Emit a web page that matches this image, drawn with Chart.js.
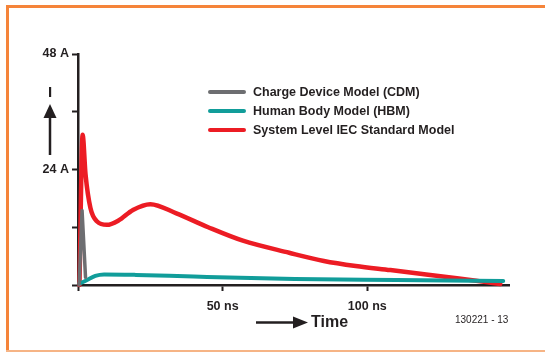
<!DOCTYPE html>
<html>
<head>
<meta charset="utf-8">
<script src="https://cdn.jsdelivr.net/npm/chart.js@4.4.1/dist/chart.umd.min.js"></script>
<style>
  html, body { margin:0; padding:0; background:#fff; }
  #wrap { position:relative; width:545px; height:352px; }
</style>
</head>
<body>
<div id="wrap"><canvas id="esd"></canvas></div>
<script>
// =========================================
// DATA
// =========================================
const seriesNames = ['Charge Device Model (CDM)', 'Human Body Model (HBM)', 'System Level IEC Standard Model'];
const seriesColors = ['#6d6e71', '#119d9a', '#ec1c24'];

// time in ns, current in A
const cdmTime    = [0.4, 1.4, 2.6];
const cdmCurrent = [0, 15.5, 1.6];

const hbmTime    = [0.5, 3, 6, 9, 20, 40, 75, 110, 147];
const hbmCurrent = [0.3, 1.0, 1.9, 2.2, 2.1, 1.75, 1.25, 1.05, 0.85];

const iecTime    = [0.5, 1.6, 2.6, 4.3, 6.6, 10, 14, 19, 25, 34, 45, 57, 73, 85, 96, 108, 119, 131, 141, 146];
const iecCurrent = [0, 31.2, 23, 16, 13.2, 12.5, 13.4, 15.6, 16.8, 14.9, 12.0, 9.2, 6.7, 5.0, 3.95, 3.1, 2.3, 1.4, 0.6, 0.2];

const xTicks = [0, 50, 100];
const xTickLabels = ['', '50 ns', '100 ns'];
const yTicks = [0, 12, 24, 36, 48];
const yTickLabels = ['', '', '24 A', '', '48 A'];

const ink = '#231f20';
const font = "'Liberation Sans', Arial, sans-serif";

function points(t, v){
  return t.map((x, i) => ({ x: x, y: v[i] }));
}

// =========================================
// FRAME, ARROWS, LEGEND
// =========================================
const extras = {
  id: 'extras',
  afterDraw(chart){
    const c = chart.ctx;
    c.save();

    // orange frame
    c.fillStyle = '#f5843a';
    c.fillRect(6, 5, 545 - 6, 3);
    c.fillRect(6, 5, 3, 352 - 5);
    c.fillStyle = '#f6b485';
    c.fillRect(6, 350, 545 - 6, 2);

    // "I" with upward arrow
    c.fillStyle = ink;
    c.strokeStyle = ink;
    c.font = 'bold 15px ' + font;
    c.textAlign = 'center';
    c.textBaseline = 'middle';
    c.fillText('I', 50, 93);
    c.lineWidth = 2.5;
    c.beginPath();
    c.moveTo(50, 155);
    c.lineTo(50, 115);
    c.stroke();
    c.beginPath();
    c.moveTo(50, 104);
    c.lineTo(56.5, 118);
    c.lineTo(43.5, 118);
    c.closePath();
    c.fill();

    // time arrow
    c.beginPath();
    c.moveTo(256, 322.5);
    c.lineTo(296, 322.5);
    c.stroke();
    c.beginPath();
    c.moveTo(308, 322.5);
    c.lineTo(293, 316.5);
    c.lineTo(293, 328.5);
    c.closePath();
    c.fill();
    c.font = 'bold 16px ' + font;
    c.textAlign = 'left';
    c.fillText('Time', 311, 323);

    c.font = "10px 'Liberation Sans Narrow', 'Liberation Sans', sans-serif";
    c.fillText('130221 - 13', 455, 320);

    // legend
    c.font = 'bold 12.5px ' + font;
    chart.data.datasets.forEach((ds, i) => {
      const y = 92 + i * 19;
      c.strokeStyle = ds.borderColor;
      c.lineWidth = 4;
      c.lineCap = 'round';
      c.beginPath();
      c.moveTo(210, y);
      c.lineTo(244, y);
      c.stroke();
      c.fillStyle = ink;
      c.fillText(ds.label, 253, y + 0.5);
    });

    c.restore();
  }
};

// =========================================
// CHART
// =========================================
new Chart(document.getElementById('esd'), {

  type: 'line',

  data: {
    datasets: [
      { label: seriesNames[0], data: points(cdmTime, cdmCurrent), borderColor: seriesColors[0], borderWidth: 3.5, tension: 0 },
      { label: seriesNames[1], data: points(hbmTime, hbmCurrent), borderColor: seriesColors[1], borderWidth: 4, cubicInterpolationMode: 'monotone' },
      { label: seriesNames[2], data: points(iecTime, iecCurrent), borderColor: seriesColors[2], borderWidth: 4.5, cubicInterpolationMode: 'monotone' }
    ]
  },

  options:{
    responsive:true,
    maintainAspectRatio:false,
    animation:false,
    layout: { padding: { left: 0, top: 54, right: 36, bottom: 0 } },
    elements: {
      point: { radius: 0 },
      line: { borderCapStyle: 'round', borderJoinStyle: 'round', fill: false }
    },
    datasets: { line: { clip: false } },
    plugins: {
      legend: { display: false },
      tooltip: { enabled: false }
    },
    scales: {
      x: {
        type: 'linear',
        min: 0,
        max: 149,
        afterBuildTicks: s => { s.ticks = xTicks.map(v => ({ value: v })); },
        afterFit: s => { s.height = 67; },
        border: { color: ink, width: 2.5 },
        grid: { drawOnChartArea: false, drawTicks: true, tickLength: 6, color: ink, tickWidth: 2 },
        ticks: {
          color: ink,
          padding: 8,
          maxRotation: 0,
          font: { family: font, weight: 'bold', size: 12.5 },
          callback: (v, i) => xTickLabels[i]
        }
      },
      y: {
        min: 0,
        max: 48,
        afterBuildTicks: s => { s.ticks = yTicks.map(v => ({ value: v })); },
        afterFit: s => { s.width = 78; },
        border: { color: ink, width: 2.5 },
        grid: { drawOnChartArea: false, drawTicks: true, tickLength: 6, color: ink, tickWidth: 2 },
        ticks: {
          color: ink,
          padding: 3,
          font: { family: font, weight: 'bold', size: 12.5 },
          callback: (v, i) => yTickLabels[i]
        }
      }
    }
  },

  plugins: [extras]

});
</script>
</body>
</html>
